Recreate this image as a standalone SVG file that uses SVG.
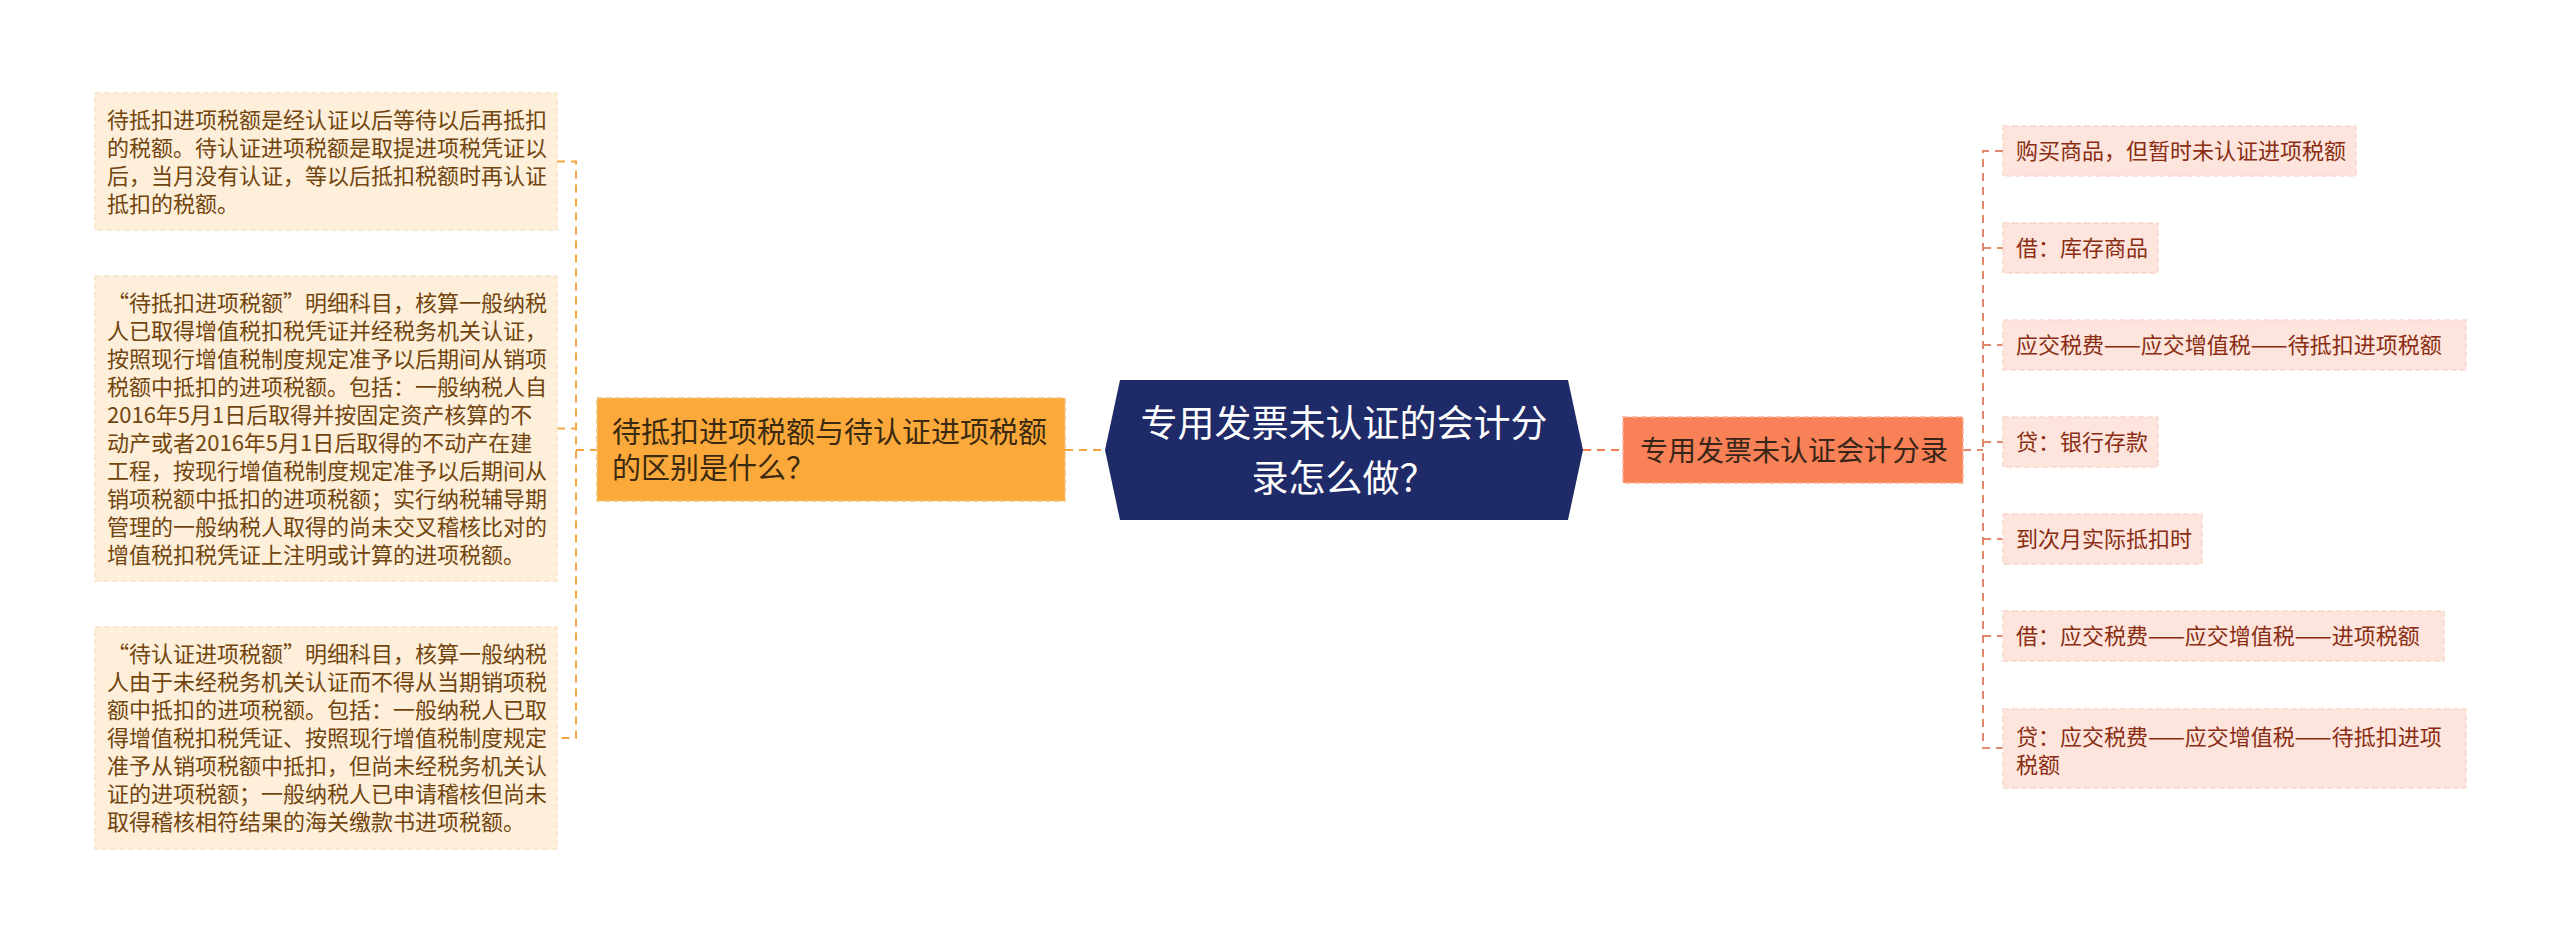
<svg xmlns="http://www.w3.org/2000/svg" width="2560" height="942" viewBox="0 0 2560 942">
<style>
text{font-family:"Noto Sans CJK SC","Noto Sans",sans-serif;}
.ll rect{fill:#fdefda;stroke:#f8e5c6;stroke-width:1.5;stroke-dasharray:6 3;}
.ll text{font-size:22px;fill:#72450e;}
.rl rect{fill:#fde5dd;stroke:#fad8cc;stroke-width:1.5;stroke-dasharray:6 3;}
.rl text{font-size:22px;fill:#8a2d13;}
.cl{fill:none;stroke:#f4a640;stroke-width:2;stroke-dasharray:8 6;}
.cr{fill:none;stroke:#e3896b;stroke-width:2;stroke-dasharray:8 6;}
</style>
<rect width="2560" height="942" fill="#ffffff"/>
<g id="connectors">
<path class="cl" d="M557 161.5H576V738H557"/>
<path class="cl" d="M557 428.5H576"/>
<path class="cl" d="M576 450H597"/>
<path class="cl" d="M1065 450H1105"/>
<path class="cr" style="stroke:#f47f55" d="M1583 450H1623"/>
<path class="cr" d="M1963 450H1983"/>
<path class="cr" d="M2003 151H1983V748H2003"/>
<path class="cr" d="M1983 248H2003M1983 345H2003M1983 442H2003M1983 539H2003M1983 636H2003"/>
</g>
<g id="center">
<polygon points="1120,380 1568,380 1583,450 1568,520 1120,520 1105,450" fill="#1f2a68"/>
<text x="1344" y="437" text-anchor="middle" font-size="37" fill="#ffffff">专用发票未认证的会计分</text>
<text x="1344" y="492" text-anchor="middle" font-size="37" fill="#ffffff">录怎么做？</text>
</g>
<g id="branch-left">
<rect x="597" y="398" width="468" height="103" fill="#faa93a" stroke="#f2c27a" stroke-width="1.5" stroke-dasharray="6 3"/>
<text x="612" y="443" font-size="29" fill="#3b2a10">待抵扣进项税额与待认证进项税额</text>
<text x="612" y="479" font-size="29" fill="#3b2a10">的区别是什么？</text>
</g>
<g id="branch-right">
<rect x="1623" y="417" width="340" height="66" fill="#f98157" stroke="#fbb096" stroke-width="1.5" stroke-dasharray="6 3"/>
<text x="1640" y="461" font-size="28" fill="#3a2618">专用发票未认证会计分录</text>
</g>
<g id="leaf-l1" class="ll">
<rect x="95" y="93" width="462" height="137"/>
<text x="107" y="128">待抵扣进项税额是经认证以后等待以后再抵扣</text>
<text x="107" y="156">的税额。待认证进项税额是取提进项税凭证以</text>
<text x="107" y="184">后，当月没有认证，等以后抵扣税额时再认证</text>
<text x="107" y="212">抵扣的税额。</text>
</g>
<g id="leaf-l2" class="ll">
<rect x="95" y="276" width="462" height="305"/>
<text x="107" y="311">“待抵扣进项税额”明细科目，核算一般纳税</text>
<text x="107" y="339">人已取得增值税扣税凭证并经税务机关认证，</text>
<text x="107" y="367">按照现行增值税制度规定准予以后期间从销项</text>
<text x="107" y="395">税额中抵扣的进项税额。包括：一般纳税人自</text>
<text x="107" y="423">2016年5月1日后取得并按固定资产核算的不</text>
<text x="107" y="451">动产或者2016年5月1日后取得的不动产在建</text>
<text x="107" y="479">工程，按现行增值税制度规定准予以后期间从</text>
<text x="107" y="507">销项税额中抵扣的进项税额；实行纳税辅导期</text>
<text x="107" y="535">管理的一般纳税人取得的尚未交叉稽核比对的</text>
<text x="107" y="563">增值税扣税凭证上注明或计算的进项税额。</text>
</g>
<g id="leaf-l3" class="ll">
<rect x="95" y="627" width="462" height="222"/>
<text x="107" y="662">“待认证进项税额”明细科目，核算一般纳税</text>
<text x="107" y="690">人由于未经税务机关认证而不得从当期销项税</text>
<text x="107" y="718">额中抵扣的进项税额。包括：一般纳税人已取</text>
<text x="107" y="746">得增值税扣税凭证、按照现行增值税制度规定</text>
<text x="107" y="774">准予从销项税额中抵扣，但尚未经税务机关认</text>
<text x="107" y="802">证的进项税额；一般纳税人已申请稽核但尚未</text>
<text x="107" y="830">取得稽核相符结果的海关缴款书进项税额。</text>
</g>
<g id="leaf-r1" class="rl">
<rect x="2003" y="126" width="353" height="50"/>
<text x="2016" y="159">购买商品，但暂时未认证进项税额</text>
</g>
<g id="leaf-r2" class="rl">
<rect x="2003" y="223" width="155" height="50"/>
<text x="2016" y="256">借：库存商品</text>
</g>
<g id="leaf-r3" class="rl">
<rect x="2003" y="320" width="463" height="50"/>
<text x="2016" y="353">应交税费——应交增值税——待抵扣进项税额</text>
</g>
<g id="leaf-r4" class="rl">
<rect x="2003" y="417" width="155" height="50"/>
<text x="2016" y="450">贷：银行存款</text>
</g>
<g id="leaf-r5" class="rl">
<rect x="2003" y="514" width="199" height="50"/>
<text x="2016" y="547">到次月实际抵扣时</text>
</g>
<g id="leaf-r6" class="rl">
<rect x="2003" y="611" width="441" height="50"/>
<text x="2016" y="644">借：应交税费——应交增值税——进项税额</text>
</g>
<g id="leaf-r7" class="rl">
<rect x="2003" y="709" width="463" height="79"/>
<text x="2016" y="745">贷：应交税费——应交增值税——待抵扣进项</text>
<text x="2016" y="773">税额</text>
</g>
</svg>
